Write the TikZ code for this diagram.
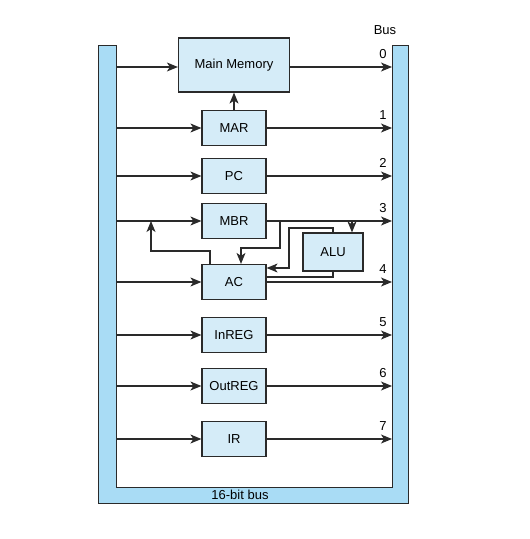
\documentclass[tikz,border=0pt]{standalone}
\usepackage{fontspec}
\setmainfont{Liberation Sans}
\usetikzlibrary{arrows.meta}
\definecolor{busblue}{HTML}{A9DCF5}
\definecolor{boxblue}{HTML}{D5ECF8}
\definecolor{ink}{HTML}{2A2A2A}
\tikzset{
  reg/.style={draw=ink, line width=1.2pt, fill=boxblue, minimum width=64pt, minimum height=35pt, inner sep=0pt, font=\fontsize{13}{15}\selectfont},
  wire/.style={draw=ink, line width=1.2pt},
  arr/.style={wire, -{Stealth[length=11pt,width=9pt,inset=3pt]}},
  lab/.style={font=\fontsize{13}{15}\selectfont, inner sep=0pt},
}
\begin{document}
\begin{tikzpicture}[x=1pt,y=-1pt]
\useasboundingbox (0,0) rectangle (530,539);
% bus
\path[draw=ink, line width=1pt, fill=busblue]
  (98,45) -- (98,503) -- (408,503) -- (408,45) -- (392,45) -- (392,487) -- (116,487) -- (116,45) -- cycle;
\node[lab] (bus) at (385,30) {Bus};
\node[lab] (bb) at (240,495) {16-bit bus};
% registers
\node[reg, minimum width=111pt, minimum height=54pt] (mm) at (234,65) {Main Memory};
\node[reg] (mar) at (234,128) {MAR};
\node[reg] (pc) at (234,176) {PC};
\node[reg] (mbr) at (234,221) {MBR};
\node[reg] (ac) at (234,282) {AC};
\node[reg] (inreg) at (234,335) {InREG};
\node[reg] (outreg) at (234,386) {OutREG};
\node[reg] (ir) at (234,439) {IR};
\node[reg, minimum width=60pt, minimum height=38pt] (alu) at (333,252) {ALU};
% bus coordinates
\foreach \n/\y in {0/67,1/128,2/176,3/221,4/282,5/335,6/386,7/439}{
  \coordinate (L\n) at (116,\y);
  \coordinate (R\n) at (392,\y);
  \node[lab] (n\n) at (383,\y-13) {\n};
}
% left inputs and right outputs
\draw[arr] (L0) -- (mm.west |- L0);
\draw[arr] (mm.east |- R0) -- (R0);
\foreach \n/\r in {1/mar,2/pc,3/mbr,4/ac,5/inreg,6/outreg,7/ir}{
  \draw[arr] (L\n) -- (\r.west);
  \draw[arr] (\r.east) -- (R\n);
}
\draw[arr] (mar.north) -- (mm.south);
% AC -> MBR input line
\coordinate (j1) at (151,221);
\coordinate (j1b) at (151,251);
\draw[arr] ([xshift=-24pt]ac.north) |- (j1b) -- (j1);
% MBR output -> AC
\coordinate (m1) at (280,221);
\coordinate (m1b) at (280,248);
\draw[arr] (m1) -- (m1b) -| ([xshift=7pt]ac.north);
% MBR output -> ALU
\coordinate (m2) at (352,221);
\draw[arr] (m2) -- (m2 |- alu.north);
% ALU -> AC
\coordinate (a1) at (289,228);
\coordinate (a2) at (289,268);
\draw[arr] (alu.north) |- (a1) -- (a2) -- (ac.east |- a2);
% AC -> ALU
\coordinate (a3) at (333,277);
\draw[wire] (ac.east |- a3) -- (a3) -- (alu.south);
\end{tikzpicture}
\end{document}
